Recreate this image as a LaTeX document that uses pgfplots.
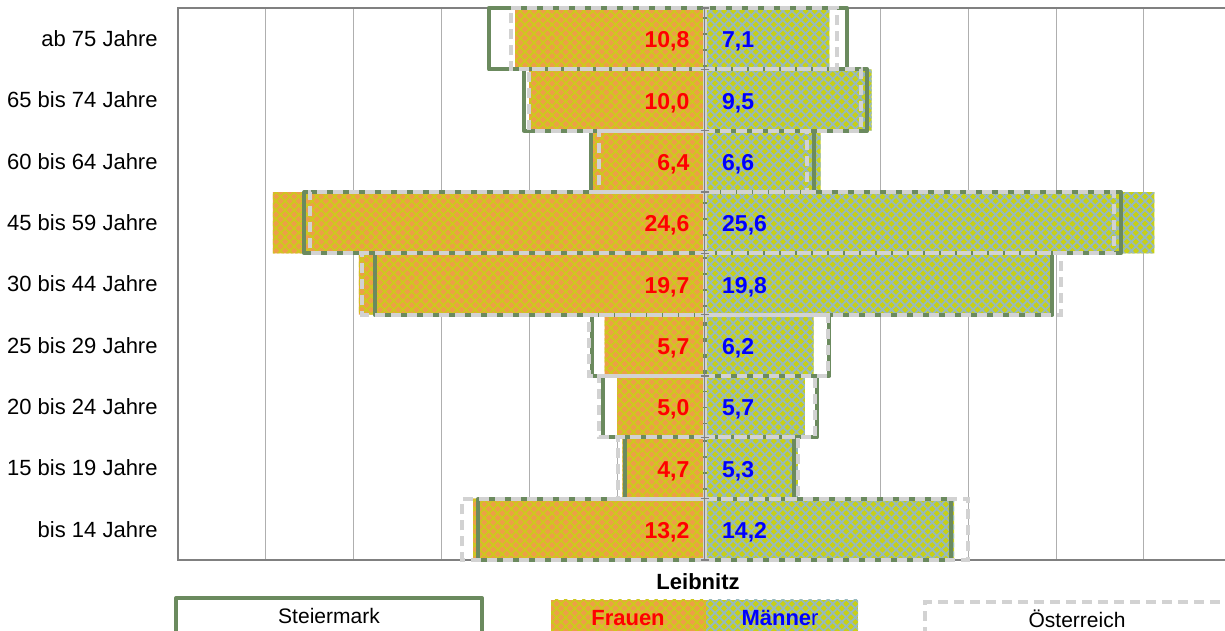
\documentclass[border=0pt]{standalone}
\usepackage{pgfplots}
\pgfplotsset{compat=1.18}
\usepackage{pgfplotstable}
\usepackage{fontspec}
\setmainfont{Liberation Sans}
\usetikzlibrary{patterns.meta}

\definecolor{stgreen}{RGB}{107,138,94}
\definecolor{oegrey}{RGB}{210,210,210}
\definecolor{fbase}{RGB}{238,158,72}
\definecolor{fhatch}{RGB}{205,200,30}
\definecolor{mbase}{RGB}{200,208,20}
\definecolor{mhatch}{RGB}{150,185,190}
\definecolor{gridgrey}{RGB}{175,175,175}
\definecolor{framegrey}{RGB}{128,128,128}

% y: category index (0 = bis 14 Jahre ... 8 = ab 75 Jahre)
% f/m: Leibnitz Frauen/Maenner, sf/sm: Steiermark, of/om: Oesterreich
\pgfplotstableread{
y f m sf sm of om
0 13.2 14.2 12.9 14.0 13.8 15.0
1 4.7 5.3 4.55 5.1 4.95 5.3
2 5.0 5.7 5.8 6.4 6.0 6.3
3 5.7 6.2 6.4 7.1 6.6 7.0
4 19.7 19.8 18.8 19.8 19.5 20.3
5 24.6 25.6 22.8 23.7 22.5 23.3
6 6.4 6.6 6.5 6.2 6.0 5.8
7 10.0 9.5 10.3 9.25 10.0 8.9
8 10.8 7.1 12.3 8.1 11.05 7.5
}\pyr

\begin{document}
\begin{tikzpicture}
\begin{axis}[
  at={(89pt,35.5pt)}, anchor=south west,
  scale only axis, width=526.8pt, height=276pt,
  xmin=-30, xmax=30, ymin=-0.5, ymax=8.5,
  xtick={-30,-25,...,30}, xticklabels={},
  ytick={0,...,8},
  yticklabels={bis 14 Jahre,15 bis 19 Jahre,20 bis 24 Jahre,25 bis 29 Jahre,30 bis 44 Jahre,45 bis 59 Jahre,60 bis 64 Jahre,65 bis 74 Jahre,ab 75 Jahre},
  yticklabel style={font=\fontsize{11}{13}\selectfont, inner sep=0pt, xshift=-10pt},
  major tick length=0pt,
  xmajorgrids, major grid style={gridgrey, line width=0.5pt},
  axis line style={framegrey, line width=0.6pt},
  clip=false,
]
% Leibnitz Frauen
\addplot[xbar, bar width=1, bar shift=0pt, draw=none, fill=fbase,
  postaction={pattern={Hatch[angle=45,distance=3.2pt,line width=0.9pt]}, pattern color=fhatch}]
  table[x expr=-\thisrow{f}, y=y] {\pyr};
% Leibnitz Maenner
\addplot[xbar, bar width=1, bar shift=0pt, draw=none, fill=mbase,
  postaction={pattern={Hatch[angle=45,distance=3.2pt,line width=0.9pt]}, pattern color=mhatch}]
  table[x=m, y=y] {\pyr};
% Steiermark
\addplot[xbar, bar width=1, bar shift=0pt, draw=stgreen, line width=2pt, fill=none, line join=round]
  table[x expr=-\thisrow{sf}, y=y] {\pyr};
\addplot[xbar, bar width=1, bar shift=0pt, draw=stgreen, line width=2pt, fill=none, line join=round]
  table[x=sm, y=y] {\pyr};
% Oesterreich
\addplot[xbar, bar width=1, bar shift=0pt, draw=oegrey, line width=2pt, fill=none, dash pattern=on 5pt off 3pt]
  table[x expr=-\thisrow{of}, y=y] {\pyr};
\addplot[xbar, bar width=1, bar shift=0pt, draw=oegrey, line width=2pt, fill=none, dash pattern=on 5pt off 3pt]
  table[x=om, y=y] {\pyr};
% centre axis line
\draw[framegrey, line width=0.6pt] (axis cs:0,-0.5) -- (axis cs:0,8.5);
\pgfplotsinvokeforeach{0,...,9}{
  \draw[framegrey, line width=0.6pt] ([xshift=-2pt]axis cs:0,{#1-0.5}) -- ([xshift=2pt]axis cs:0,{#1-0.5});
}
% value labels
\addplot[draw=none, mark=none, point meta=\thisrow{f},
  nodes near coords={\pgfmathprintnumber[use comma,fixed,fixed zerofill,precision=1,assume math mode=true]{\pgfplotspointmeta}},
  nodes near coords style={anchor=east, xshift=-7.5pt, yshift=-1.5pt, text=red, inner sep=0pt, font=\bfseries\fontsize{11.5}{13}\selectfont}]
  table[x expr=0, y=y] {\pyr};
\addplot[draw=none, mark=none, point meta=\thisrow{m},
  nodes near coords={\pgfmathprintnumber[use comma,fixed,fixed zerofill,precision=1,assume math mode=true]{\pgfplotspointmeta}},
  nodes near coords style={anchor=west, xshift=8.5pt, yshift=-1.5pt, text=blue, inner sep=0pt, font=\bfseries\fontsize{11.5}{13}\selectfont}]
  table[x expr=0, y=y] {\pyr};
\end{axis}
% legend
\draw[stgreen, line width=2pt, fill=white, line join=round] (88pt,-3pt) rectangle (241pt,16.5pt);
\node[font=\fontsize{10.5}{12}\selectfont] at (164.5pt,7.5pt) {Steiermark};
\path[fill=fbase, postaction={pattern={Hatch[angle=45,distance=3.2pt,line width=0.9pt]}, pattern color=fhatch}] (275.5pt,-3pt) rectangle (353pt,15.5pt);
\path[fill=mbase, postaction={pattern={Hatch[angle=45,distance=3.2pt,line width=0.9pt]}, pattern color=mhatch}] (353pt,-3pt) rectangle (429pt,15.5pt);
\node[text=red, font=\bfseries\fontsize{11}{13}\selectfont] at (314pt,6.5pt) {Frauen};
\node[text=blue, font=\fontsize{11}{13}\selectfont] at (390pt,6.5pt) {\textbf{Männe}r};
\node[font=\bfseries\fontsize{11}{13}\selectfont] at (349pt,24.5pt) {Leibnitz};
\draw[oegrey, line width=2pt, dash pattern=on 5pt off 3pt] (462.5pt,-3pt) rectangle (640pt,14.5pt);
\node[font=\fontsize{10.5}{12}\selectfont] at (538.5pt,6pt) {Österreich};
\pgfresetboundingbox
\useasboundingbox (0,0) rectangle (612.5pt,315.5pt);
\end{tikzpicture}
\end{document}
